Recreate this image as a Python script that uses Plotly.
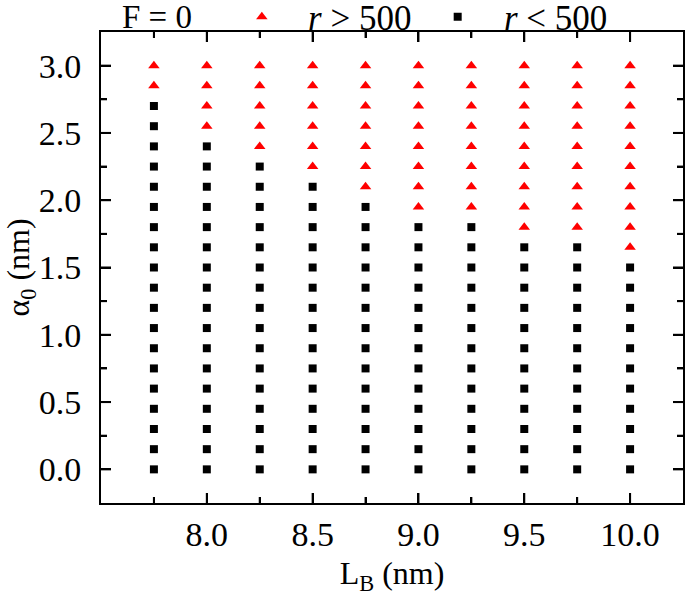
import plotly.graph_objects as go

# ---- data ----
LB = [7.75, 8.0, 8.25, 8.5, 8.75, 9.0, 9.25, 9.5, 9.75, 10.0]
ALPHA0 = [0.0, 0.15, 0.3, 0.45, 0.6, 0.75, 0.9, 1.05, 1.2, 1.35, 1.5,
          1.65, 1.8, 1.95, 2.1, 2.25, 2.4, 2.55, 2.7, 2.85, 3.0]
# lowest alpha0 in each LB column where r > 500 (red triangles)
RED_FROM = [2.85, 2.55, 2.4, 2.25, 2.1, 1.95, 1.95, 1.8, 1.8, 1.65]
X_TICKS = [8.0, 8.5, 9.0, 9.5, 10.0]
X_MINOR = [7.75, 8.25, 8.75, 9.25, 9.75]
Y_TICKS = [0.0, 0.5, 1.0, 1.5, 2.0, 2.5, 3.0]
Y_MINOR = [0.25, 0.75, 1.25, 1.75, 2.25, 2.75]

red_x, red_y, blk_x, blk_y = [], [], [], []
for lb, thr in zip(LB, RED_FROM):
    for a in ALPHA0:
        if a >= thr - 1e-9:
            red_x.append(lb); red_y.append(a)
        else:
            blk_x.append(lb); blk_y.append(a)

FONT = "Liberation Serif"
NB = "\u00a0"
W, H = 685, 600
ML, MR, MT, MB = 101, 2, 32, 97
PW, PH = W - ML - MR, H - MT - MB
MAJ, MIN = 10, 6

fig = go.Figure()
fig.add_trace(go.Scatter(
    x=red_x, y=red_y, mode="markers", showlegend=True,
    marker=dict(symbol="triangle-up", size=10, color="#ff0000", line=dict(width=0)),
    name=NB * 3 + "<i>r</i> &gt; 500", legend="legend"))
fig.add_trace(go.Scatter(
    x=blk_x, y=blk_y, mode="markers", showlegend=True,
    marker=dict(symbol="square", size=8, color="#000000", line=dict(width=0)),
    name=NB * 3 + "<i>r</i> &lt; 500", legend="legend2"))

# inward tick marks on all four sides (follow the axis tick lists)
tick_line = dict(color="#000000", width=2)
shapes = []
for vals, ln in ((X_TICKS, MAJ), (X_MINOR, MIN)):
    for v in vals:
        shapes.append(dict(type="line", xref="x", yref="paper", x0=v, x1=v,
                           y0=0, y1=ln / PH, line=tick_line))
        shapes.append(dict(type="line", xref="x", yref="paper", x0=v, x1=v,
                           y0=1, y1=1 - ln / PH, line=tick_line))
for vals, ln in ((Y_TICKS, MAJ), (Y_MINOR, MIN)):
    for v in vals:
        shapes.append(dict(type="line", xref="paper", yref="y", y0=v, y1=v,
                           x0=0, x1=ln / PW, line=tick_line))
        shapes.append(dict(type="line", xref="paper", yref="y", y0=v, y1=v,
                           x0=1, x1=1 - ln / PW, line=tick_line))

axis_common = dict(
    showline=True, linewidth=2, linecolor="#000000", mirror="ticks",
    ticks="inside", ticklen=MAJ, tickwidth=2, tickcolor="#000000",
    showgrid=False, zeroline=False, tickformat=".1f",
    tickfont=dict(family=FONT, size=34, color="black"),
)

fig.update_layout(
    width=W, height=H, showlegend=True,
    margin=dict(l=ML, r=MR, t=MT, b=MB, autoexpand=False),
    paper_bgcolor="white", plot_bgcolor="white",
    font=dict(family=FONT, size=32, color="black"),
    xaxis=dict(range=[7.5, 10.25], tickmode="array", tickvals=X_TICKS,
               minor=dict(ticks="inside", ticklen=MIN, tickwidth=2, tickcolor="#000000",
                          tickmode="array", tickvals=X_MINOR),
               title=dict(text="L<sub>B</sub> (nm)", font=dict(family=FONT, size=32),
                          standoff=10),
               **axis_common),
    yaxis=dict(range=[-0.25, 3.25], tickmode="array", tickvals=Y_TICKS,
               ticklabelstandoff=11,
               minor=dict(ticks="inside", ticklen=MIN, tickwidth=2, tickcolor="#000000",
                          tickmode="array", tickvals=Y_MINOR),
               title=dict(text="α<sub>0</sub> (nm)", font=dict(family=FONT, size=32)),
               **axis_common),
    legend=dict(orientation="h", x=0.242, xanchor="left", y=1.032, yanchor="middle",
                bgcolor="rgba(0,0,0,0)", font=dict(family=FONT, size=35, color="black")),
    legend2=dict(orientation="h", x=0.5785, xanchor="left", y=1.032, yanchor="middle",
                 bgcolor="rgba(0,0,0,0)", font=dict(family=FONT, size=35, color="black")),
    annotations=[dict(text="F = 0", xref="paper", yref="paper", x=0.0326, y=1.032,
                      xanchor="left", yanchor="middle", showarrow=False,
                      font=dict(family=FONT, size=33, color="black"))],
    shapes=shapes,
)

fig.write_html("out.html", config={"displayModeBar": False},
               post_script="document.body.style.margin='0px';"
                           "document.body.style.overflow='hidden';")
